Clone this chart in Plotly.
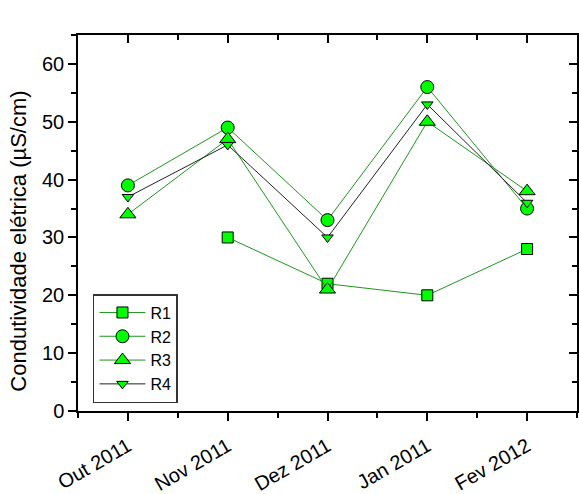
import plotly.graph_objects as go

months = ["Out 2011", "Nov 2011", "Dez 2011", "Jan 2011", "Fev 2012"]
r1 = [None, 30, 22, 20, 28]
r2 = [39, 49, 33, 56, 35]
r3 = [34, 47, 21, 50, 38]
r4 = [37, 46, 30, 53, 36]

xi = list(range(len(months)))
green_line = "#1E961E"
fill = "#00FF00"
FONT = "Liberation Sans, Arial"

fig = go.Figure()
series = [
    ("R1", r1, "square", 11, green_line),
    ("R2", r2, "circle", 13, green_line),
    ("R3", r3, "triangle-up", 14, green_line),
    ("R4", r4, "triangle-down", 10, "#222222"),
]
for name, vals, sym, sz, lc in series:
    fig.add_trace(go.Scatter(
        x=xi, y=vals, name=name, mode="lines+markers",
        line=dict(color=lc, width=1),
        marker=dict(symbol=sym, size=sz, color=fill, line=dict(color="black", width=1)),
        connectgaps=False,
    ))

# invisible trace for mirrored inner-tick axes
fig.add_trace(go.Scatter(x=[0], y=[0], xaxis="x2", yaxis="y2", mode="markers",
                         marker=dict(opacity=0), showlegend=False, hoverinfo="skip"))

fig.update_layout(
    width=579, height=494,
    margin=dict(l=78, r=2, t=35, b=83),
    paper_bgcolor="white", plot_bgcolor="white",
    font=dict(family=FONT, color="black"),
    xaxis=dict(
        range=[-0.5, 4.5], tickmode="array", tickvals=xi, ticktext=months,
        tickangle=-30, ticks="outside", ticklen=8, tickwidth=1.5, tickcolor="black",
        showline=True, linecolor="black", linewidth=1.5, showgrid=False, zeroline=False,
        automargin=False, ticklabelstandoff=6,
        tickfont=dict(family=FONT, size=20, color="black"),
        minor=dict(tickvals=[-0.5, 0.5, 1.5, 2.5, 3.5, 4.5], ticks="outside", ticklen=5,
                   tickwidth=1.5, tickcolor="black", showgrid=False),
    ),
    yaxis=dict(
        range=[0, 65], tickmode="array", tickvals=[0, 10, 20, 30, 40, 50, 60],
        ticks="outside", ticklen=8, tickwidth=1.5, tickcolor="black",
        showline=True, linecolor="black", linewidth=1.5, showgrid=False, zeroline=False,
        automargin=False,
        tickfont=dict(family=FONT, size=20, color="black"),
        minor=dict(tickvals=[5, 15, 25, 35, 45, 55, 65], ticks="outside", ticklen=5,
                   tickwidth=1.5, tickcolor="black", showgrid=False),
    ),
    xaxis2=dict(
        overlaying="x", side="top", anchor="y", range=[-0.5, 4.5],
        tickmode="array", tickvals=xi, showticklabels=False, automargin=False,
        ticks="inside", ticklen=8, tickwidth=1.5, tickcolor="black",
        showline=True, linecolor="black", linewidth=1.5, showgrid=False, zeroline=False,
        minor=dict(tickvals=[0.5, 1.5, 2.5, 3.5], ticks="inside", ticklen=5,
                   tickwidth=1.5, tickcolor="black", showgrid=False),
    ),
    yaxis2=dict(
        overlaying="y", side="right", anchor="x", range=[0, 65],
        tickmode="array", tickvals=[0, 10, 20, 30, 40, 50, 60], showticklabels=False,
        automargin=False,
        ticks="inside", ticklen=8, tickwidth=1.5, tickcolor="black",
        showline=True, linecolor="black", linewidth=1.5, showgrid=False, zeroline=False,
        minor=dict(tickvals=[5, 15, 25, 35, 45, 55], ticks="inside", ticklen=5,
                   tickwidth=1.5, tickcolor="black", showgrid=False),
    ),
    legend=dict(
        x=0.03, y=0.311, xanchor="left", yanchor="top",
        bgcolor="white", bordercolor="#333333", borderwidth=1.5,
        font=dict(family=FONT, size=16, color="black"),
        itemwidth=46, tracegroupgap=0,
    ),
    showlegend=True,
    annotations=[dict(
        text="Condutividade elétrica (µS/cm)", textangle=-90,
        xref="paper", yref="paper", x=-0.121, y=0.452,
        xanchor="center", yanchor="middle", showarrow=False,
        font=dict(family=FONT, size=22, color="black"),
    )],
)

post = ("document.body.style.margin='0';document.body.style.overflow='hidden';"
        "var gd=document.getElementById('{plot_id}');"
        "Plotly.relayout(gd,{width:579,height:494});")
fig.write_html("out.html", post_script=post, config={"displayModeBar": False})
